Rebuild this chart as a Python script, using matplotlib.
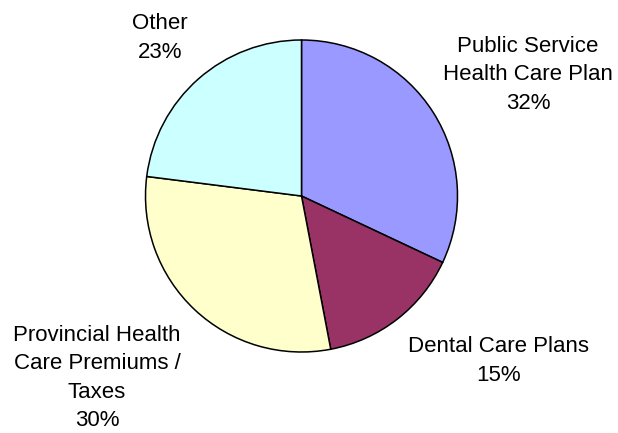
import matplotlib.pyplot as plt

labels = ["Public Service\nHealth Care Plan", "Dental Care Plans",
          "Provincial Health\nCare Premiums /\nTaxes", "Other"]
shares = [32, 15, 30, 23]
colors = ["#9999FF", "#993366", "#FFFFCC", "#CCFFFF"]

# label anchor points in pixel space (x, y from top)
label_pos = [(528, 75), (499, 361), (97, 378), (160, 38)]

W, H = 618, 433
fig = plt.figure(figsize=(W / 100, H / 100), dpi=100)
ax = fig.add_axes([0, 0, 1, 1])

ax.pie(shares, colors=colors, startangle=90, counterclock=False,
       center=(301.5, H - 196), radius=156, frame=True,
       wedgeprops=dict(edgecolor="black", linewidth=1.1))
ax.set_xlim(0, W)
ax.set_ylim(0, H)
ax.set_aspect("equal")
ax.axis("off")

for lab, val, (x, y) in zip(labels, shares, label_pos):
    ax.text(x, H - y, f"{lab}\n{val}%", ha="center", va="center",
            fontsize=16, family="Liberation Sans", linespacing=1.47,
            color="black")

fig.savefig("out.png", dpi=100)
